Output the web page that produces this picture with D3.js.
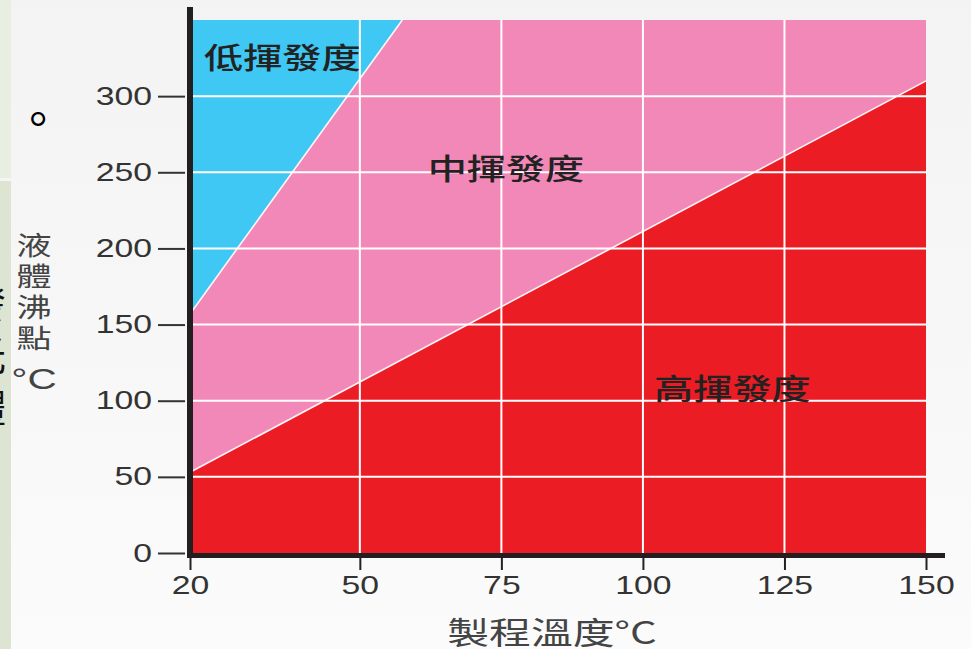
<!DOCTYPE html>
<html>
<head>
<meta charset="utf-8">
<script src="https://cdn.jsdelivr.net/npm/d3@7"></script>
<style>
  html, body { margin: 0; padding: 0; background: #f6f6f6; }
  svg { display: block; }
</style>
</head>
<body>
<svg id="chart" width="971" height="649"></svg>
<script>
// datos
const xTicks = [20, 50, 75, 100, 125, 150];
const yTicks = [0, 50, 100, 150, 200, 250, 300];
const xGrid = [50, 75, 100, 125];
const yGrid = [50, 100, 150, 200, 250, 300];

// límite bajo/medio (temperatura, punto de ebullición)
const lowMidTemp = [20, 57.5];
const lowMidBp = [157, 350];
// límite medio/alto
const midHighTemp = [20, 150];
const midHighBp = [53, 310];

const regionLabels = ["低揮發度", "中揮發度", "高揮發度"];
const regionLabelPos = [[36.3, 325], [75.8, 251.5], [115.8, 107.5]];
const yTitle = ["液", "體", "沸", "點", "°C"];
const xTitle = "製程溫度°C";

const colors = { low: "#3fc8f3", mid: "#f288b8", high: "#ec1c24" };
const numFont = "'Liberation Sans', Arial, sans-serif";
const cjkFont = "'Noto Sans CJK TC', 'Noto Sans CJK SC', sans-serif";
const sx = 1.35; // el original está estirado en horizontal

const svg = d3.select("#chart");

// fondo
const defs = svg.append("defs");
const grad = defs.append("linearGradient").attr("id", "bg").attr("x1", 0).attr("y1", 0).attr("x2", 0).attr("y2", 1);
grad.append("stop").attr("offset", "0%").attr("stop-color", "#f3f3f3");
grad.append("stop").attr("offset", "100%").attr("stop-color", "#fbfbfb");
svg.append("rect").attr("width", 971).attr("height", 649).attr("fill", "url(#bg)");

// paneles de la diapositiva a la izquierda
svg.append("rect").attr("x", 0).attr("y", 0).attr("width", 11).attr("height", 178).attr("fill", "#e9eee3");
svg.append("rect").attr("x", 0).attr("y", 181).attr("width", 11).attr("height", 468).attr("fill", "#dde5d2");
defs.append("clipPath").attr("id", "leftclip").append("rect").attr("x", 0).attr("y", 181).attr("width", 10).attr("height", 468);
svg.append("g").attr("clip-path", "url(#leftclip)")
    .selectAll("text").data(["發", "光", "體"]).join("text")
    .attr("x", -14).attr("y", (d, i) => 318 + i * 52)
    .attr("text-anchor", "middle")
    .style("font-family", cjkFont).style("font-size", "40px").attr("fill", "#111")
    .text(d => d);
svg.append("text").attr("x", 15).attr("y", 136)
    .style("font-family", cjkFont).style("font-size", "46px").attr("fill", "#000").text("。");

// escalas
const x = d3.scaleLinear().domain([20, 150]).range([190, 926]);
const y = d3.scaleLinear().domain([0, 350]).range([553, 20]);

// regiones
svg.append("rect")
    .attr("x", x(20)).attr("y", y(350))
    .attr("width", x(150) - x(20)).attr("height", y(0) - y(350))
    .attr("fill", colors.mid);

const highArea = d3.area().x(d => x(d[0])).y0(y(0)).y1(d => y(d[1]));
svg.append("path")
    .datum(midHighTemp.map((t, i) => [t, midHighBp[i]]))
    .attr("d", highArea).attr("fill", colors.high);

const lowArea = d3.area().x(d => x(d[0])).y0(y(350)).y1(d => y(d[1]));
svg.append("path")
    .datum(lowMidTemp.map((t, i) => [t, lowMidBp[i]]))
    .attr("d", lowArea).attr("fill", colors.low);

// líneas de límite
const line = d3.line().x(d => x(d[0])).y(d => y(d[1]));
[[lowMidTemp, lowMidBp], [midHighTemp, midHighBp]].forEach(([t, b]) => {
    svg.append("path")
        .datum(t.map((v, i) => [v, b[i]]))
        .attr("d", line).attr("fill", "none")
        .attr("stroke", "#fff4f6").attr("stroke-width", 1.6);
});

// cuadrícula
svg.append("g").selectAll("line").data(xGrid).join("line")
    .attr("x1", d => x(d)).attr("x2", d => x(d))
    .attr("y1", y(350)).attr("y2", y(0))
    .attr("stroke", "#fff").attr("stroke-width", 2);
svg.append("g").selectAll("line").data(yGrid).join("line")
    .attr("x1", x(20)).attr("x2", x(150))
    .attr("y1", d => y(d)).attr("y2", d => y(d))
    .attr("stroke", "#fff").attr("stroke-width", 2);

// etiquetas de región
svg.append("g").selectAll("text").data(regionLabels).join("text")
    .attr("transform", (d, i) => `translate(${x(regionLabelPos[i][0])},${y(regionLabelPos[i][1])}) scale(${sx},1)`)
    .attr("text-anchor", "middle").attr("dy", "0.36em")
    .style("font-family", cjkFont).style("font-size", "29px").style("font-weight", 500)
    .attr("fill", "#222")
    .text(d => d);

// eje Y
const yAxis = svg.append("g")
    .attr("transform", `translate(185,0)`)
    .call(d3.axisLeft(y).tickValues(yTicks).tickSize(27).tickPadding(6));
yAxis.select(".domain").remove();
yAxis.selectAll(".tick line").attr("stroke", "#333").attr("stroke-width", 2);
yAxis.selectAll(".tick text")
    .attr("x", -33 / sx)
    .attr("transform", `scale(${sx},1)`)
    .style("font-family", numFont).style("font-size", "25px").attr("fill", "#333");

// eje X
const xAxis = svg.append("g")
    .attr("transform", `translate(0,556)`)
    .call(d3.axisBottom(x).tickValues(xTicks).tickSize(14).tickPadding(6));
xAxis.select(".domain").remove();
xAxis.selectAll(".tick line").attr("stroke", "#222").attr("stroke-width", 2);
xAxis.selectAll(".tick text")
    .attr("transform", `scale(${sx},1)`)
    .style("font-family", numFont).style("font-size", "25px").attr("fill", "#333");

// líneas de ejes gruesas
svg.append("line").attr("x1", 190).attr("x2", 190).attr("y1", 7).attr("y2", 558)
    .attr("stroke", "#231f20").attr("stroke-width", 6);
svg.append("line").attr("x1", 187).attr("x2", 945).attr("y1", 555.5).attr("y2", 555.5)
    .attr("stroke", "#231f20").attr("stroke-width", 5);

// títulos
svg.append("g").selectAll("text").data(yTitle).join("text")
    .attr("transform", (d, i) => `translate(34,${246 + i * 31 + (i === 4 ? 8 : 0)}) scale(${sx},1)`)
    .attr("text-anchor", "middle").attr("dy", "0.36em")
    .style("font-family", d => d === "°C" ? numFont : cjkFont)
    .style("font-size", d => d === "°C" ? "30px" : "26px")
    .attr("fill", "#444")
    .text(d => d);

svg.append("text")
    .attr("transform", `translate(552,633) scale(${sx},1)`)
    .attr("text-anchor", "middle").attr("dy", "0.36em")
    .style("font-family", cjkFont).style("font-size", "31px")
    .attr("fill", "#444")
    .text(xTitle);
</script>
</body>
</html>
